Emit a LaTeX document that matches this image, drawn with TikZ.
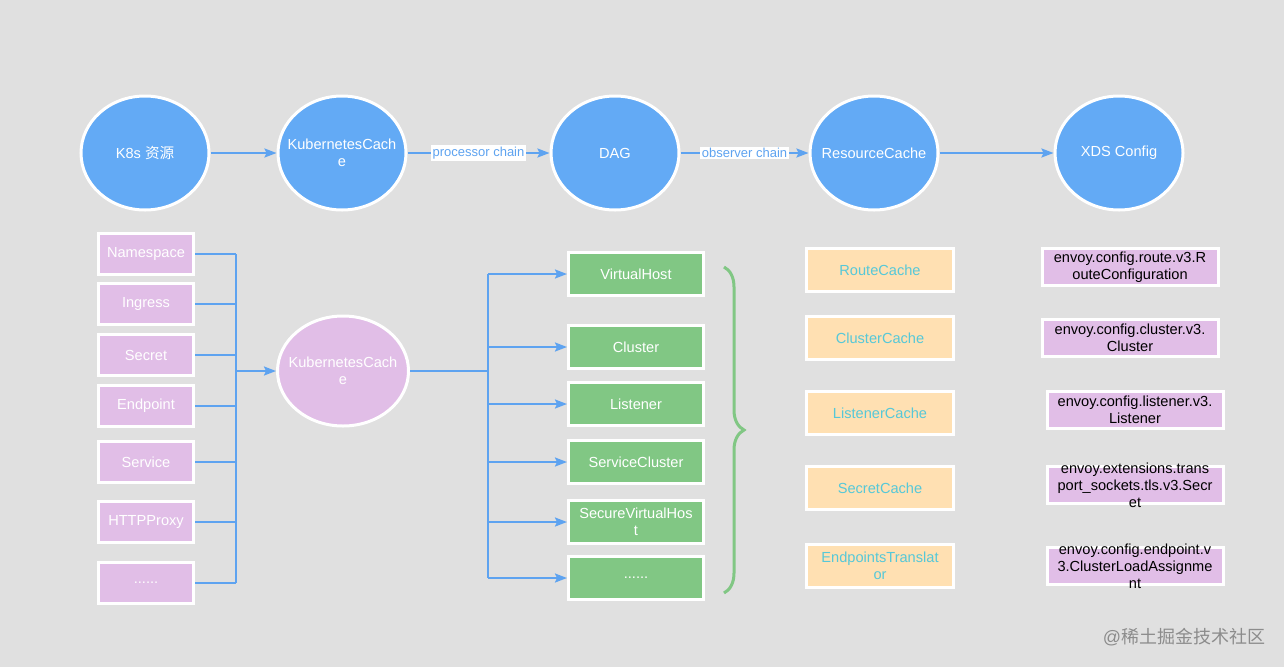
\documentclass[tikz,border=0pt]{standalone}
\usepackage{fontspec}
\setmainfont{Liberation Sans}
\newfontfamily\cjk{Noto Sans CJK SC}
\usetikzlibrary{shapes.geometric,arrows.meta,decorations.pathreplacing}
\definecolor{bgc}{HTML}{E0E0E0}
\definecolor{cblue}{HTML}{63AAF5}
\definecolor{lblue}{HTML}{5EA3F0}
\definecolor{cpink}{HTML}{E1BEE7}
\definecolor{cgreen}{HTML}{81C784}
\definecolor{corange}{HTML}{FFE0B2}
\definecolor{cteal}{HTML}{56C8D8}
\definecolor{wmark}{HTML}{8C8C8C}
\newcommand\dfont{\fontsize{14.6}{17}\selectfont}
\tikzset{
  bcirc/.style={ellipse, draw=white, line width=3pt, fill=cblue, text=white,
    minimum width=128pt, minimum height=114pt, inner sep=0pt, align=center, font=\dfont},
  pcirc/.style={bcirc, fill=cpink},
  wtext/.style={text=white, align=center, font=\dfont, inner sep=0pt},
  pbox/.style={rectangle, draw=white, line width=3pt, fill=cpink, text=white,
    minimum width=95pt, minimum height=41pt, inner sep=0pt, align=center, font=\dfont},
  gbox/.style={pbox, fill=cgreen, minimum width=135pt, minimum height=43pt},
  obox/.style={pbox, fill=corange, text=cteal, minimum width=147pt, minimum height=43pt},
  cbox/.style={pbox, fill=cpink, minimum width=176pt, minimum height=37pt},
  ctext/.style={text=black, align=center, font=\dfont, inner sep=0pt},
  wire/.style={draw=lblue, line width=2pt},
  conn/.style={wire, -{Stealth[length=12pt,width=9pt,inset=2pt]}},
  lab/.style={fill=white, text=lblue, font=\fontsize{13}{15}\selectfont, inner sep=1.5pt}
}
\begin{document}
\begin{tikzpicture}[x=1pt,y=-1pt]
\fill[bgc] (0,0) rectangle (1284,667);
\useasboundingbox (0,0) rectangle (1284,667);

% top row
\node[bcirc] (k8s) at (145,153) {K8s {\cjk 资源}};
\node[bcirc] (kc) at (342,153) {};
\node[wtext] (kct) at (kc) {KubernetesCach\\e};
\node[bcirc] (dag) at (615,153) {DAG};
\node[bcirc] (rc) at (874,153) {};
\node[wtext] (rct) at (rc) {ResourceCache};
\node[bcirc] (xds) at (1119,153) {XDS Config};
\draw[conn] (k8s) -- (kc);
\draw[conn] (kc) -- node[lab] {processor chain} (dag);
\draw[conn] (dag) -- node[lab] {observer chain} (rc);
\draw[conn] (rc) -- (xds);

% left resources
\node[pbox] (ns) at (146,254) {Namespace};
\node[pbox] (ing) at (146,304) {Ingress};
\node[pbox] (sec) at (146,355) {Secret};
\node[pbox] (ep) at (146,406) {Endpoint};
\node[pbox] (svc) at (146,462) {Service};
\node[pbox] (hp) at (146,522) {HTTPProxy};
\node[pbox] (pd) at (146,583) {......};
\node[pcirc, minimum width=131pt, minimum height=110pt] (kc2) at (343,371) {};
\node[wtext] (kc2t) at (kc2) {KubernetesCach\\e};
\coordinate (bus1) at (236,371);
\foreach \n in {ns,ing,sec,ep,svc,hp,pd}{
  \draw[wire] (\n.east) -- (\n.east -| bus1);
}
\draw[wire] (ns.east -| bus1) -- (pd.east -| bus1);
\draw[conn] (bus1) -- (kc2.west);

% DAG objects
\node[gbox] (vh) at (636,274) {VirtualHost};
\node[gbox] (cl) at (636,347) {Cluster};
\node[gbox] (li) at (636,404) {Listener};
\node[gbox] (sc) at (636,462) {ServiceCluster};
\node[gbox] (svh) at (636,522) {SecureVirtualHos\\t};
\node[gbox] (gd) at (636,578) {......};
\coordinate (bus2) at (488,371);
\draw[wire] (kc2.east) -- (bus2);
\draw[wire] (vh.west -| bus2) -- (gd.west -| bus2);
\foreach \n in {vh,cl,li,sc,svh,gd}{
  \draw[conn] (\n.west -| bus2) -- (\n.west);
}
\draw[cgreen, line width=3pt, decorate, decoration={brace, amplitude=20pt, aspect=0.5}]
  (724,267) -- (724,593);

% caches
\node[obox] (rca) at (880,270) {RouteCache};
\node[obox] (cca) at (880,338) {ClusterCache};
\node[obox] (lca) at (880,413) {ListenerCache};
\node[obox] (sca) at (880,488) {SecretCache};
\node[obox] (eta) at (880,566) {EndpointsTranslat\\or};

% xds configs
\node[cbox] (x1) at (1130,267) {};
\node[ctext] at (x1) {envoy.config.route.v3.R\\outeConfiguration};
\node[cbox] (x2) at (1130,338) {};
\node[ctext] at (x2) {envoy.config.cluster.v3.\\Cluster};
\node[cbox] (x3) at (1135,410) {};
\node[ctext] at (x3) {envoy.config.listener.v3.\\Listener};
\node[cbox] (x4) at (1135,485) {};
\node[ctext] at (x4) {envoy.extensions.trans\\port\_sockets.tls.v3.Secr\\et};
\node[cbox] (x5) at (1135,566) {};
\node[ctext] at (x5) {envoy.config.endpoint.v\\3.ClusterLoadAssignme\\nt};

% watermark
\node[text=wmark, font=\fontsize{18}{20}\selectfont, inner sep=0pt] (wm) at (1184,637) {@{\cjk 稀土掘金技术社区}};
\end{tikzpicture}
\end{document}
